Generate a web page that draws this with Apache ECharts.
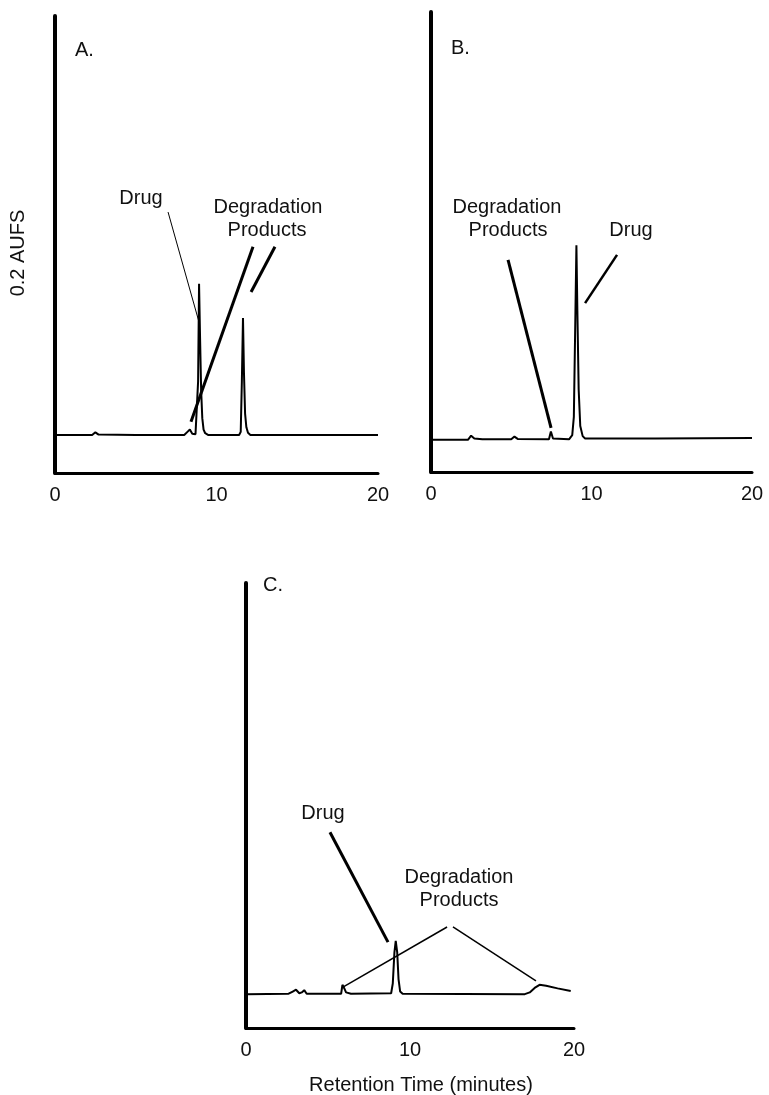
<!DOCTYPE html>
<html><head><meta charset="utf-8">
<script src="https://cdn.jsdelivr.net/npm/echarts@6/dist/echarts.min.js"></script>
<style>html,body{margin:0;padding:0;background:#fff}#c{width:769px;height:1095px}</style>
</head><body><div id="c"></div>
<script>
// ---- data (retention time in minutes, detector response as fraction of full scale) ----
const xTickValues = [0, 10, 20];
const panelLetters = ['A.', 'B.', 'C.'];
const yAxisTitle = '0.2 AUFS';
const xAxisTitle = 'Retention Time (minutes)';

const traceA = [
  [0.05,0.083],[2.3,0.083],[2.5,0.089],[2.7,0.084],[5.0,0.083],[8.0,0.083],[8.2,0.09],[8.35,0.095],
  [8.5,0.086],[8.7,0.085],[8.8,0.087],[8.86,0.2],[8.92,0.414],[8.98,0.3],[9.05,0.18],[9.12,0.12],
  [9.2,0.095],[9.3,0.087],[9.5,0.083],[11.4,0.083],[11.5,0.09],[11.57,0.2],[11.64,0.339],[11.7,0.22],
  [11.77,0.13],[11.85,0.1],[11.95,0.088],[12.1,0.083],[16,0.083],[20,0.083]
];
const traceB = [
  [0.05,0.07],[2.3,0.07],[2.5,0.079],[2.7,0.073],[3.2,0.071],[5.0,0.071],[5.2,0.077],[5.4,0.072],
  [7.35,0.071],[7.47,0.088],[7.6,0.073],[8.6,0.071],[8.8,0.08],[8.9,0.12],[9.0,0.35],[9.06,0.493],
  [9.12,0.35],[9.2,0.18],[9.3,0.1],[9.45,0.078],[9.6,0.073],[14,0.073],[20,0.074]
];
const traceC = [
  [0.05,0.076],[2.6,0.077],[2.85,0.082],[3.05,0.086],[3.25,0.078],[3.4,0.08],[3.55,0.085],[3.7,0.077],
  [5.8,0.077],[5.88,0.097],[5.98,0.09],[6.1,0.08],[6.4,0.077],[8.85,0.078],[8.95,0.1],[9.05,0.17],
  [9.13,0.196],[9.22,0.17],[9.3,0.11],[9.4,0.082],[9.55,0.077],[17.0,0.076],[17.3,0.08],[17.6,0.09],
  [17.9,0.097],[18.3,0.095],[19.0,0.089],[19.8,0.083]
];

// annotation leader lines, endpoints in data units [time, response]
const leadersA = [
  [[7.0,0.571],[8.92,0.330]],   // Drug
  [[12.26,0.495],[8.42,0.112]], // Degradation products
  [[13.62,0.495],[12.14,0.396]] // Degradation products
];
const leadersB = [
  [[4.80,0.461],[7.48,0.096]],  // Degradation products
  [[11.59,0.472],[9.6,0.367]]   // Drug
];
const leadersC = [
  [[5.12,0.440],[8.66,0.193]],  // Drug
  [[12.26,0.227],[5.91,0.092]], // Degradation products
  [[12.62,0.227],[17.68,0.106]] // Degradation products
];
const labelDrug = 'Drug';
const labelDeg = ['Degradation', 'Products'];

// ---- chart ----
const FONT = '"Liberation Sans", Arial, Helvetica, sans-serif';
const FS = 20;
const grids = [
  {left: 55, top: 16, width: 323, height: 457, outerBoundsMode: 'none', containLabel: false},
  {left: 431, top: 12, width: 321, height: 460, outerBoundsMode: 'none', containLabel: false},
  {left: 246, top: 583, width: 328, height: 445, outerBoundsMode: 'none', containLabel: false}
];
const leaderWidths = [[1, 3, 3], [3, 2.5], [3, 1.5, 1.5]];
const traces = [traceA, traceB, traceC];
const leaders = [leadersA, leadersB, leadersC];

const xAxes = grids.map((g, i) => ({
  type: 'value', gridIndex: i, min: 0, max: 20, interval: 10,
  axisLine: {show: true, onZero: false, lineStyle: {color: '#000', width: 3}},
  axisTick: {show: false}, splitLine: {show: false},
  axisLabel: {color: '#111', fontSize: FS, fontFamily: FONT, margin: 12,
    formatter: v => xTickValues.includes(v) ? String(v) : ''}
}));
const yAxes = grids.map((g, i) => ({
  type: 'value', gridIndex: i, min: 0, max: 1,
  axisLine: {show: true, onZero: false, lineStyle: {color: '#000', width: 4}},
  axisTick: {show: false}, splitLine: {show: false}, axisLabel: {show: false}
}));

const series = [];
traces.forEach((t, i) => {
  series.push({type: 'line', xAxisIndex: i, yAxisIndex: i, data: t, showSymbol: false,
    lineStyle: {color: '#000', width: 2}, silent: true, animation: false});
  leaders[i].forEach((seg, k) => {
    series.push({type: 'line', xAxisIndex: i, yAxisIndex: i, data: seg, showSymbol: false,
      lineStyle: {color: '#000', width: leaderWidths[i][k]}, silent: true, animation: false});
  });
});

const txt = (x, y, s, align, rot) => ({type: 'text', x: x, y: y, rotation: rot || 0,
  style: {text: s, fill: '#111', font: FS + 'px ' + FONT, textAlign: align || 'center', textVerticalAlign: 'middle'}});

const graphic = [
  txt(75, 50, panelLetters[0], 'left'),
  txt(451, 48, panelLetters[1], 'left'),
  txt(263, 585, panelLetters[2], 'left'),
  txt(141, 198, labelDrug), txt(268, 207, labelDeg[0]), txt(267, 230, labelDeg[1]),
  txt(507, 207, labelDeg[0]), txt(508, 230, labelDeg[1]), txt(631, 230, labelDrug),
  txt(323, 813, labelDrug), txt(459, 877, labelDeg[0]), txt(459, 900, labelDeg[1]),
  txt(18, 253, yAxisTitle, 'center', Math.PI / 2),
  txt(421, 1085, xAxisTitle)
];

const chart = echarts.init(document.getElementById('c'), null, {renderer: 'canvas'});
chart.setOption({
  backgroundColor: '#fff', animation: false,
  grid: grids, xAxis: xAxes, yAxis: yAxes, series: series, graphic: graphic
});
</script></body></html>
